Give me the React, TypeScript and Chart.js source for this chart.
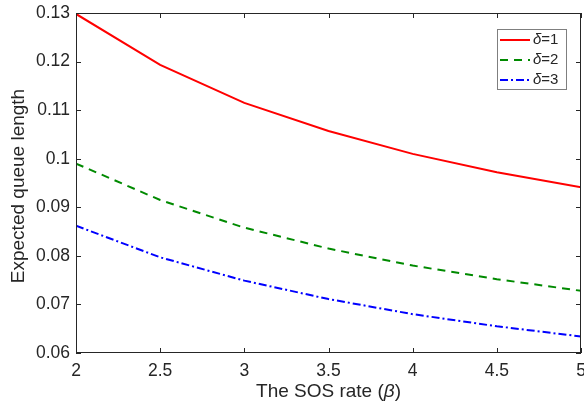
import React, { useEffect, useRef } from "react";
import { Chart, registerables } from "chart.js";

Chart.register(...registerables);

const betaValues = [2, 2.5, 3, 3.5, 4, 4.5, 5];
const delta1 = [0.1298, 0.1193, 0.1115, 0.1057, 0.1010, 0.0972, 0.0941];
const delta2 = [0.0990, 0.0915, 0.0858, 0.0815, 0.0780, 0.0752, 0.0728];
const delta3 = [0.0862, 0.0797, 0.0749, 0.0711, 0.0680, 0.0655, 0.0634];
const seriesLabels = ["1", "2", "3"];
const xTitle = "The SOS rate (";
const yTitle = "Expected queue length";

const FONT = "'Liberation Sans', Arial, sans-serif";
const TEXT = "#262626";
const AXIS = "#262626";

const colors = ["#ff0000", "#008a00", "#0000ff"];
const dashes: number[][] = [[], [8, 6], [8, 3, 2, 3]];

const framePlugin = {
  id: "frame",
  afterDatasetsDraw(chart: any) {
    const { ctx, chartArea: a, scales } = chart;
    ctx.save();
    ctx.strokeStyle = AXIS;
    ctx.lineWidth = 1;
    ctx.strokeRect(a.left + 0.5, a.top + 0.5, a.right - a.left - 1, a.bottom - a.top - 1);
    const tl = 5;
    ctx.beginPath();
    scales.x.ticks.forEach((t: any) => {
      const px = Math.round(scales.x.getPixelForValue(t.value)) + 0.5;
      ctx.moveTo(px, a.bottom);
      ctx.lineTo(px, a.bottom - tl);
      ctx.moveTo(px, a.top);
      ctx.lineTo(px, a.top + tl);
    });
    scales.y.ticks.forEach((t: any) => {
      const py = Math.round(scales.y.getPixelForValue(t.value)) + 0.5;
      ctx.moveTo(a.left, py);
      ctx.lineTo(a.left + tl, py);
      ctx.moveTo(a.right, py);
      ctx.lineTo(a.right - tl, py);
    });
    ctx.stroke();

    // x title with italic beta
    const cx = (a.left + a.right) / 2;
    const ty = 392;
    ctx.fillStyle = TEXT;
    ctx.textBaseline = "middle";
    const f1 = `19px ${FONT}`;
    const f2 = `italic 19px ${FONT}`;
    ctx.font = f1;
    const w1 = ctx.measureText(xTitle).width;
    const w3 = ctx.measureText(")").width;
    ctx.font = f2;
    const w2 = ctx.measureText("β").width;
    let x = cx - (w1 + w2 + w3) / 2;
    ctx.textAlign = "left";
    ctx.font = f1;
    ctx.fillText(xTitle, x, ty);
    x += w1;
    ctx.font = f2;
    ctx.fillText("β", x, ty);
    x += w2;
    ctx.font = f1;
    ctx.fillText(")", x, ty);

    // y title
    ctx.save();
    ctx.translate(19, (a.top + a.bottom) / 2 + 3);
    ctx.rotate(-Math.PI / 2);
    ctx.textAlign = "center";
    ctx.textBaseline = "middle";
    ctx.font = f1;
    ctx.fillText(yTitle, 0, 0);
    ctx.restore();

    // legend
    const lx = 497, ly = 29, lw = 69, lh = 60;
    ctx.fillStyle = "#ffffff";
    ctx.fillRect(lx, ly, lw, lh);
    ctx.strokeStyle = "#7f7f7f";
    ctx.lineWidth = 1;
    ctx.strokeRect(lx + 0.5, ly + 0.5, lw, lh);
    seriesLabels.forEach((s, i) => {
      const yy = ly + 11 + i * 20;
      ctx.strokeStyle = colors[i];
      ctx.lineWidth = 2;
      ctx.setLineDash(dashes[i]);
      ctx.beginPath();
      ctx.moveTo(lx + 3, yy);
      ctx.lineTo(lx + 33, yy);
      ctx.stroke();
      ctx.setLineDash([]);
      ctx.fillStyle = TEXT;
      ctx.font = `italic 15px ${FONT}`;
      ctx.textAlign = "left";
      ctx.fillText("δ", lx + 36, yy);
      const dw = ctx.measureText("δ").width;
      ctx.font = `15px ${FONT}`;
      ctx.fillText("=" + s, lx + 36 + dw, yy);
    });
    ctx.restore();
  },
};

export default function App() {
  const ref = useRef<HTMLCanvasElement>(null);
  useEffect(() => {
    if (!ref.current) return;
    const all = [delta1, delta2, delta3];
    const chart = new Chart(ref.current, {
      type: "line",
      data: {
        datasets: all.map((d, i) => ({
          label: "δ=" + seriesLabels[i],
          data: betaValues.map((b, j) => ({ x: b, y: d[j] })),
          borderColor: colors[i],
          backgroundColor: colors[i],
          borderWidth: 2,
          borderDash: dashes[i],
          pointRadius: 0,
          tension: 0,
          fill: false,
        })),
      },
      options: {
        responsive: false,
        animation: false,
        devicePixelRatio: 1,
        layout: { padding: { left: 0, right: 3, top: 13, bottom: 0 } },
        plugins: { legend: { display: false }, tooltip: { enabled: false } },
        scales: {
          x: {
            type: "linear",
            min: 2,
            max: 5,
            grid: { display: false, drawTicks: false },
            border: { display: false },
            ticks: {
              stepSize: 0.5,
              color: TEXT,
              font: { family: FONT, size: 17.5 },
              padding: 8,
              maxRotation: 0,
              callback: (v: any) => String(Number(Number(v).toFixed(2))),
            },
            afterFit: (s: any) => {
              s.height = 56;
              s.paddingLeft = 0;
              s.paddingRight = 0;
            },
          },
          y: {
            min: 0.06,
            max: 0.13,
            grid: { display: false, drawTicks: false },
            border: { display: false },
            ticks: {
              stepSize: 0.01,
              color: TEXT,
              font: { family: FONT, size: 17.5 },
              padding: 6,
              callback: (v: any) => String(Number(Number(v).toFixed(2))),
            },
            afterFit: (s: any) => {
              s.width = 76;
              s.paddingTop = 0;
              s.paddingBottom = 0;
            },
          },
        },
      },
      plugins: [framePlugin],
    });
    return () => chart.destroy();
  }, []);
  return (
    <div style={{ position: "fixed", left: 0, top: 0, width: 584, height: 409, background: "#fff" }}>
      <canvas ref={ref} width={584} height={409} style={{ width: 584, height: 409 }} />
    </div>
  );
}
